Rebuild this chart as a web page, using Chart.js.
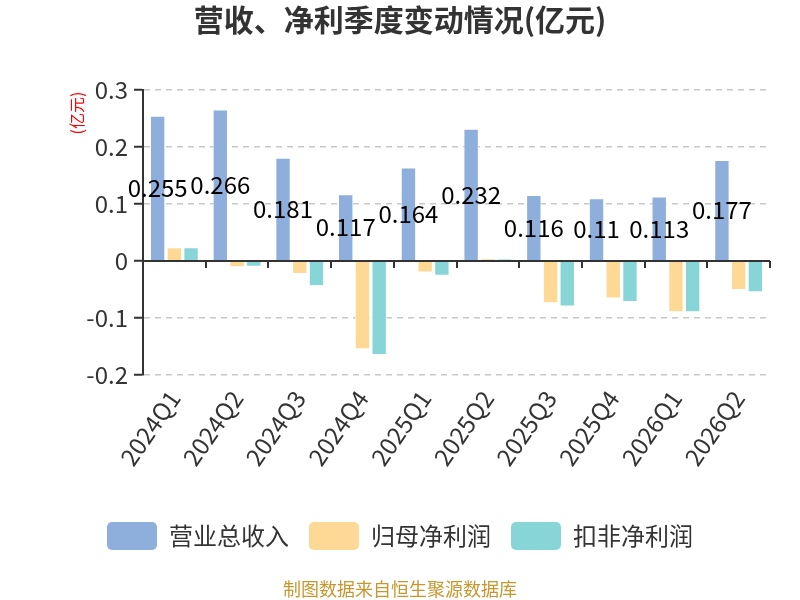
<!DOCTYPE html>
<html>
<head>
<meta charset="utf-8">
<script src="https://cdn.jsdelivr.net/npm/chart.js@4/dist/chart.umd.min.js"></script>
<style>
  html, body { margin: 0; padding: 0; background: #fff; }
  #wrap { width: 800px; height: 600px; }
</style>
</head>
<body>
<div id="wrap"><canvas id="quarterChart"></canvas></div>
<script>
const quarters = ["2024Q1", "2024Q2", "2024Q3", "2024Q4", "2025Q1", "2025Q2", "2025Q3", "2025Q4", "2026Q1", "2026Q2"];

const revenue = [0.255, 0.266, 0.181, 0.117, 0.164, 0.232, 0.116, 0.11, 0.113, 0.177];
const netProfit = [0.024, -0.011, -0.023, -0.155, -0.020, 0.005, -0.074, -0.066, -0.090, -0.051];
const deductedProfit = [0.024, -0.010, -0.044, -0.165, -0.026, 0.004, -0.080, -0.072, -0.090, -0.055];

const seriesNames = ["营业总收入", "归母净利润", "扣非净利润"];
const yTicks = [-0.2, -0.1, 0, 0.1, 0.2, 0.3];

const FONT = '"Noto Sans CJK SC", "Noto Sans", sans-serif';

// zero line, category ticks, value labels, unit and source text
const extras = {
    id: "extras",
    afterDatasetsDraw(chart) {
        const ctx = chart.ctx;
        const area = chart.chartArea;
        const y = chart.scales.y;
        const zeroY = y.getPixelForValue(0);

        ctx.save();
        ctx.strokeStyle = "#333";
        ctx.lineWidth = 2;
        ctx.beginPath();
        ctx.moveTo(area.left, zeroY);
        ctx.lineTo(area.right, zeroY);
        const step = (area.right - area.left) / quarters.length;
        for (let i = 1; i <= quarters.length; i++) {
            const px = Math.round(area.left + step * i);
            ctx.moveTo(px, zeroY);
            ctx.lineTo(px, zeroY + 7);
        }
        ctx.stroke();

        // labels on revenue bars
        const meta = chart.getDatasetMeta(0);
        ctx.fillStyle = "#000";
        ctx.font = "24px " + FONT;
        ctx.textAlign = "center";
        ctx.textBaseline = "middle";
        meta.data.forEach((bar, i) => {
            const mid = (bar.y + bar.base) / 2;
            ctx.fillText(String(revenue[i]), bar.x, mid);
        });

        // unit
        ctx.save();
        ctx.translate(77, 113);
        ctx.rotate(-Math.PI / 2);
        ctx.fillStyle = "#ff0000";
        ctx.font = "16px " + FONT;
        ctx.fillText("(亿元)", 0, 0);
        ctx.restore();

        // source
        ctx.fillStyle = "#c8962e";
        ctx.font = "18px " + FONT;
        ctx.fillText("制图数据来自恒生聚源数据库", 400, 589);
        ctx.restore();
    }
};

new Chart(document.getElementById("quarterChart"), {
    type: "bar",
    data: {
        labels: quarters,
        datasets: [{
            label: seriesNames[0],
            data: revenue,
            backgroundColor: "#8eaedb",
            borderColor: "rgba(255,255,255,0.7)",
            borderWidth: 1
        }, {
            label: seriesNames[1],
            data: netProfit,
            backgroundColor: "#fed995",
            borderColor: "rgba(255,255,255,0.7)",
            borderWidth: 1
        }, {
            label: seriesNames[2],
            data: deductedProfit,
            backgroundColor: "#88d5d8",
            borderColor: "rgba(255,255,255,0.7)",
            borderWidth: 1
        }]
    },
    options: {
        responsive: true,
        maintainAspectRatio: false,
        animation: false,
        datasets: {
            bar: {
                categoryPercentage: 0.8,
                barPercentage: 0.92
            }
        },
        layout: {
            padding: { left: 30, right: 30, top: 0, bottom: 40 }
        },
        scales: {
            x: {
                offset: true,
                grid: { display: false },
                border: { display: false },
                afterFit(scale) { scale.height = 127; },
                ticks: {
                    color: "#333",
                    font: { family: FONT, size: 24 },
                    minRotation: 55,
                    maxRotation: 55,
                    padding: 2
                }
            },
            y: {
                min: -0.2,
                max: 0.3,
                afterFit(scale) { scale.width = 113; },
                afterBuildTicks(scale) {
                    scale.ticks = yTicks.map(v => ({ value: v }));
                },
                grid: {
                    color: ctx => ctx.tick && ctx.tick.value === 0 ? "rgba(0,0,0,0)" : "#c8c8c8",
                    lineWidth: 1.5,
                    drawTicks: true,
                    tickColor: "#333",
                    tickLength: 9,
                    tickWidth: 2
                },
                border: { display: true, color: "#333", width: 2, dash: [6, 5] },
                ticks: {
                    color: "#333",
                    font: { family: FONT, size: 24 },
                    padding: 6,
                    callback: v => String(+v.toFixed(1))
                }
            }
        },
        plugins: {
            title: {
                display: true,
                text: "营收、净利季度变动情况(亿元)",
                color: "#333",
                font: { family: FONT, size: 30, weight: "bold" },
                padding: { top: 2, bottom: 52 }
            },
            legend: {
                position: "bottom",
                labels: {
                    color: "#333",
                    font: { family: FONT, size: 24 },
                    boxWidth: 50,
                    boxHeight: 28,
                    useBorderRadius: true,
                    borderRadius: 5,
                    padding: 20,
                    generateLabels(chart) {
                        return chart.data.datasets.map((ds, i) => ({
                            text: ds.label,
                            fillStyle: ds.backgroundColor,
                            strokeStyle: ds.backgroundColor,
                            lineWidth: 0,
                            fontColor: "#333",
                            borderRadius: 5,
                            datasetIndex: i
                        }));
                    }
                }
            },
            tooltip: { enabled: false }
        }
    },
    plugins: [extras]
});
</script>
</body>
</html>
